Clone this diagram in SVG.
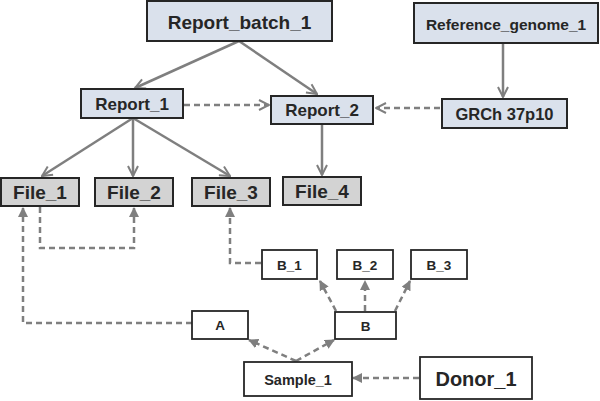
<svg xmlns="http://www.w3.org/2000/svg" width="600" height="401" viewBox="0 0 600 401">
<defs>
<style>
.blue{fill:#dae1ec;stroke:#262626;stroke-width:2}
.grey{fill:#d3d3d3;stroke:#262626;stroke-width:2}
.white{fill:#ffffff;stroke:#262626;stroke-width:1.8}
text{font-family:"Liberation Sans",Arial,sans-serif;font-weight:bold;fill:#262626;text-anchor:middle;dominant-baseline:central}
.c{fill:none;stroke:#7f7f7f;stroke-width:2.5}
.d{fill:none;stroke:#7f7f7f;stroke-width:2.5;stroke-dasharray:6,4}
</style>
<marker id="ah" viewBox="0 0 10 10" refX="9" refY="5" markerWidth="5" markerHeight="5" orient="auto" markerUnits="strokeWidth">
<path d="M1,1 L9,5 L1,9" fill="none" stroke="#7f7f7f" stroke-width="1.6"/>
</marker>
<marker id="ad" viewBox="0 0 10 10" refX="9" refY="5" markerWidth="4" markerHeight="4" orient="auto" markerUnits="strokeWidth">
<path d="M0,0 L10,5 L0,10 z" fill="#7f7f7f"/>
</marker>
</defs>
<g id="connectors">
<line class="c" x1="239" y1="41" x2="135" y2="88" marker-end="url(#ah)"/>
<line class="c" x1="239" y1="41" x2="317" y2="94" marker-end="url(#ah)"/>
<line class="c" x1="503" y1="43" x2="503" y2="97" marker-end="url(#ah)"/>
<line class="d" x1="184" y1="105" x2="269" y2="105" marker-end="url(#ah)"/>
<line class="d" x1="440" y1="108" x2="376" y2="108" marker-end="url(#ah)"/>
<line class="c" x1="133" y1="118" x2="42" y2="176" marker-end="url(#ah)"/>
<line class="c" x1="133" y1="118" x2="133" y2="176" marker-end="url(#ah)"/>
<line class="c" x1="133" y1="118" x2="230" y2="176" marker-end="url(#ah)"/>
<line class="c" x1="322" y1="124" x2="322" y2="175" marker-end="url(#ah)"/>
<polyline class="d" points="40,207 40,248 134,248 134,208" marker-end="url(#ad)"/>
<polyline class="d" points="261,263 230,263 230,208" marker-end="url(#ad)"/>
<polyline class="d" points="192,323 23,323 23,208" marker-end="url(#ad)"/>
<line class="d" x1="296" y1="361" x2="249" y2="340" marker-end="url(#ad)"/>
<line class="d" x1="296" y1="361" x2="334" y2="340" marker-end="url(#ad)"/>
<line class="d" x1="336" y1="311" x2="320" y2="281" marker-end="url(#ad)"/>
<line class="d" x1="365" y1="311" x2="365" y2="281" marker-end="url(#ad)"/>
<line class="d" x1="395" y1="311" x2="410" y2="281" marker-end="url(#ad)"/>
<line class="d" x1="419" y1="378" x2="353" y2="378" marker-end="url(#ad)"/>
</g>
<g id="Report_batch_1"><rect class="blue" x="147" y="1" width="185" height="40"/><text x="239.5" y="22" font-size="19">Report_batch_1</text></g>
<g id="Reference_genome_1"><rect class="blue" x="414" y="3" width="184" height="40"/><text x="506" y="24" font-size="15.5">Reference_genome_1</text></g>
<g id="Report_1"><rect class="blue" x="81" y="89" width="102" height="29"/><text x="132" y="104" font-size="17">Report_1</text></g>
<g id="Report_2"><rect class="blue" x="271" y="96" width="102" height="28"/><text x="322" y="110.5" font-size="17">Report_2</text></g>
<g id="GRCh_37p10"><rect class="blue" x="442" y="99" width="125" height="29"/><text x="504.5" y="114" font-size="16.5">GRCh 37p10</text></g>
<g id="File_1"><rect class="grey" x="1" y="178" width="78" height="28"/><text x="40" y="192.5" font-size="19">File_1</text></g>
<g id="File_2"><rect class="grey" x="95" y="178" width="78" height="28"/><text x="134" y="192.5" font-size="19">File_2</text></g>
<g id="File_3"><rect class="grey" x="192" y="178" width="78" height="28"/><text x="231" y="192.5" font-size="19">File_3</text></g>
<g id="File_4"><rect class="grey" x="283" y="177" width="78" height="28"/><text x="322" y="191.5" font-size="19">File_4</text></g>
<g id="B_1"><rect class="white" x="262" y="250" width="55" height="29"/><text x="289.5" y="265" font-size="13.5">B_1</text></g>
<g id="B_2"><rect class="white" x="337" y="250" width="56" height="29"/><text x="365" y="265" font-size="13.5">B_2</text></g>
<g id="B_3"><rect class="white" x="411" y="250" width="56" height="29"/><text x="439" y="265" font-size="13.5">B_3</text></g>
<g id="A"><rect class="white" x="192" y="311" width="56" height="28"/><text x="220" y="325.5" font-size="13.5">A</text></g>
<g id="B"><rect class="white" x="335" y="312" width="61" height="27"/><text x="365.5" y="326" font-size="13.5">B</text></g>
<g id="Sample_1"><rect class="white" x="244" y="362" width="108" height="34"/><text x="298" y="379.5" font-size="14.5">Sample_1</text></g>
<g id="Donor_1"><rect class="white" x="420" y="357" width="112" height="42"/><text x="476" y="378.5" font-size="20">Donor_1</text></g>
</svg>
